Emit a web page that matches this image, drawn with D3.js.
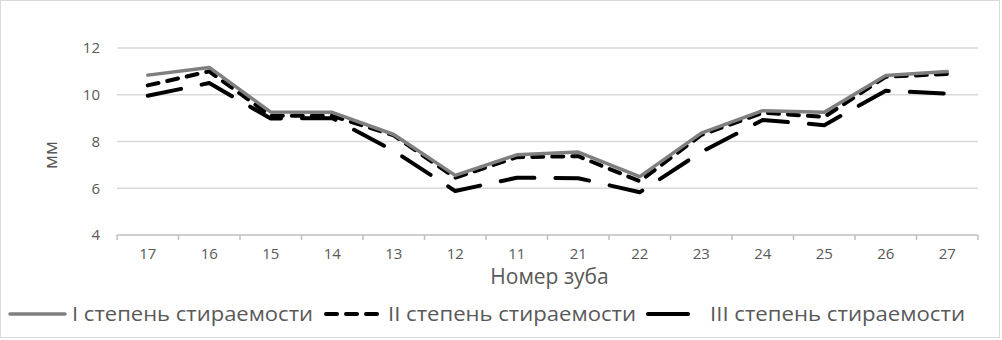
<!DOCTYPE html>
<html lang="ru">
<head>
    <meta charset="UTF-8">
    <title>Стираемость зубов</title>
    <script src="https://d3js.org/d3.v7.min.js" charset="utf-8"></script>
    <style>
        body { margin: 0; background: #fff; }
        svg { display: block; font-family: 'Open Sans', sans-serif; }
    </style>
</head>
<body>
    <div id="chart"></div>
    <script>
    // categories on the x axis (tooth numbers)
    var teeth = ['17', '16', '15', '14', '13', '12', '11', '21', '22', '23', '24', '25', '26', '27'];

    // values in mm
    var degree1 = [10.84, 11.17, 9.26, 9.25, 8.3, 6.55, 7.43, 7.55, 6.5, 8.36, 9.32, 9.25, 10.82, 10.99];
    var degree2 = [10.4, 11.0, 9.1, 9.1, 8.26, 6.45, 7.33, 7.37, 6.3, 8.28, 9.23, 9.05, 10.77, 10.89];
    var degree3 = [9.96, 10.5, 8.98, 9.0, 7.6, 5.88, 6.45, 6.43, 5.83, 7.55, 8.92, 8.7, 10.17, 10.05];

    var seriesNames = ['I степень стираемости', 'II степень стираемости', 'III степень стираемости'];
    var yTicks = [4, 6, 8, 10, 12];

    var svgWidth = 1002, svgHeight = 340;
    var plotLeft = 117, plotRight = 978, plotTop = 48, plotBottom = 235;

    var svg = d3.select('#chart').append('svg')
        .attr('width', svgWidth)
        .attr('height', svgHeight);

    // outer frame
    svg.append('rect')
        .attr('x', 0.5).attr('y', 0.5)
        .attr('width', svgWidth - 3).attr('height', svgHeight - 3)
        .attr('fill', '#fff')
        .attr('stroke', '#d9d9d9');

    var x = d3.scaleBand().domain(teeth).range([plotLeft, plotRight]);
    var y = d3.scaleLinear().domain([4, 12]).range([plotBottom, plotTop]);

    // gridlines
    svg.append('g')
        .selectAll('line')
        .data(yTicks.filter(d => d > 4))
        .enter().append('line')
        .attr('x1', plotLeft).attr('x2', plotRight)
        .attr('y1', d => y(d)).attr('y2', d => y(d))
        .attr('stroke', '#d9d9d9')
        .attr('stroke-width', 1.5);

    // y axis labels
    var yAxis = svg.append('g')
        .attr('transform', `translate(${plotLeft - 17}, 0)`)
        .call(d3.axisLeft(y).tickValues(yTicks).tickSize(0).tickPadding(0));
    yAxis.select('.domain').remove();
    yAxis.selectAll('text')
        .attr('fill', '#595959')
        .style('font-size', '15px')
        .style('font-family', 'Open Sans');

    // x axis with ticks between categories
    var xAxis = svg.append('g')
        .attr('transform', `translate(0, ${plotBottom})`)
        .call(d3.axisBottom(x).tickSize(0).tickPadding(13));
    xAxis.select('.domain')
        .attr('stroke', '#bfbfbf')
        .attr('stroke-width', 1.5)
        .attr('d', `M${plotLeft},0H${plotRight}`);
    xAxis.selectAll('text')
        .attr('fill', '#595959')
        .style('font-size', '15px')
        .style('font-family', 'Open Sans');
    xAxis.selectAll('.sep')
        .data(teeth.map(d => x(d)).concat([plotRight]))
        .enter().append('line')
        .attr('class', 'sep')
        .attr('x1', d => d).attr('x2', d => d)
        .attr('y1', 0).attr('y2', 5)
        .attr('stroke', '#bfbfbf')
        .attr('stroke-width', 1.5);

    // axis titles
    svg.append('text')
        .attr('x', (plotLeft + plotRight) / 2 + 2)
        .attr('y', 284)
        .attr('text-anchor', 'middle')
        .attr('fill', '#595959')
        .style('font-size', '21px')
        .text('Номер зуба');

    svg.append('text')
        .attr('transform', 'translate(57, 155) rotate(-90)')
        .attr('text-anchor', 'middle')
        .attr('fill', '#595959')
        .style('font-size', '19px')
        .text('мм');

    // lines
    var styles = [
        { color: '#7f7f7f', dash: null, w: 3.5 },
        { color: '#000', dash: '11,9', w: 4 },
        { color: '#000', dash: '34,21', w: 4 }
    ];
    var allSeries = [degree1, degree2, degree3];

    var line = d3.line()
        .x((d, i) => x(teeth[i]) + x.bandwidth() / 2)
        .y(d => y(d));

    // draw III first, I on top of II
    [2, 1, 0].forEach(function(k) {
        svg.append('path')
            .datum(allSeries[k])
            .attr('d', line)
            .attr('fill', 'none')
            .attr('stroke', styles[k].color)
            .attr('stroke-width', styles[k].w)
            .attr('stroke-linecap', 'round')
            .attr('stroke-linejoin', 'round')
            .attr('stroke-dasharray', styles[k].dash);
    });

    // legend
    var legendY = 314;
    var legendItems = [
        { x1: 10, x2: 65, tx: 72, tw: 241 },
        { x1: 326, x2: 380, tx: 388, tw: 248 },
        { x1: 648, x2: 688, tx: 710, tw: 255 }
    ];
    legendItems.forEach(function(it, k) {
        svg.append('line')
            .attr('x1', it.x1).attr('x2', it.x2)
            .attr('y1', legendY).attr('y2', legendY)
            .attr('stroke', styles[k].color)
            .attr('stroke-width', styles[k].w)
            .attr('stroke-linecap', 'round')
            .attr('stroke-dasharray', k == 1 ? '11,9' : null);
        svg.append('text')
            .attr('x', it.tx)
            .attr('y', legendY + 7)
            .attr('fill', '#595959')
            .attr('textLength', it.tw)
            .attr('lengthAdjust', 'spacingAndGlyphs')
            .style('font-size', '20px')
            .text(seriesNames[k]);
    });
    </script>
</body>
</html>
